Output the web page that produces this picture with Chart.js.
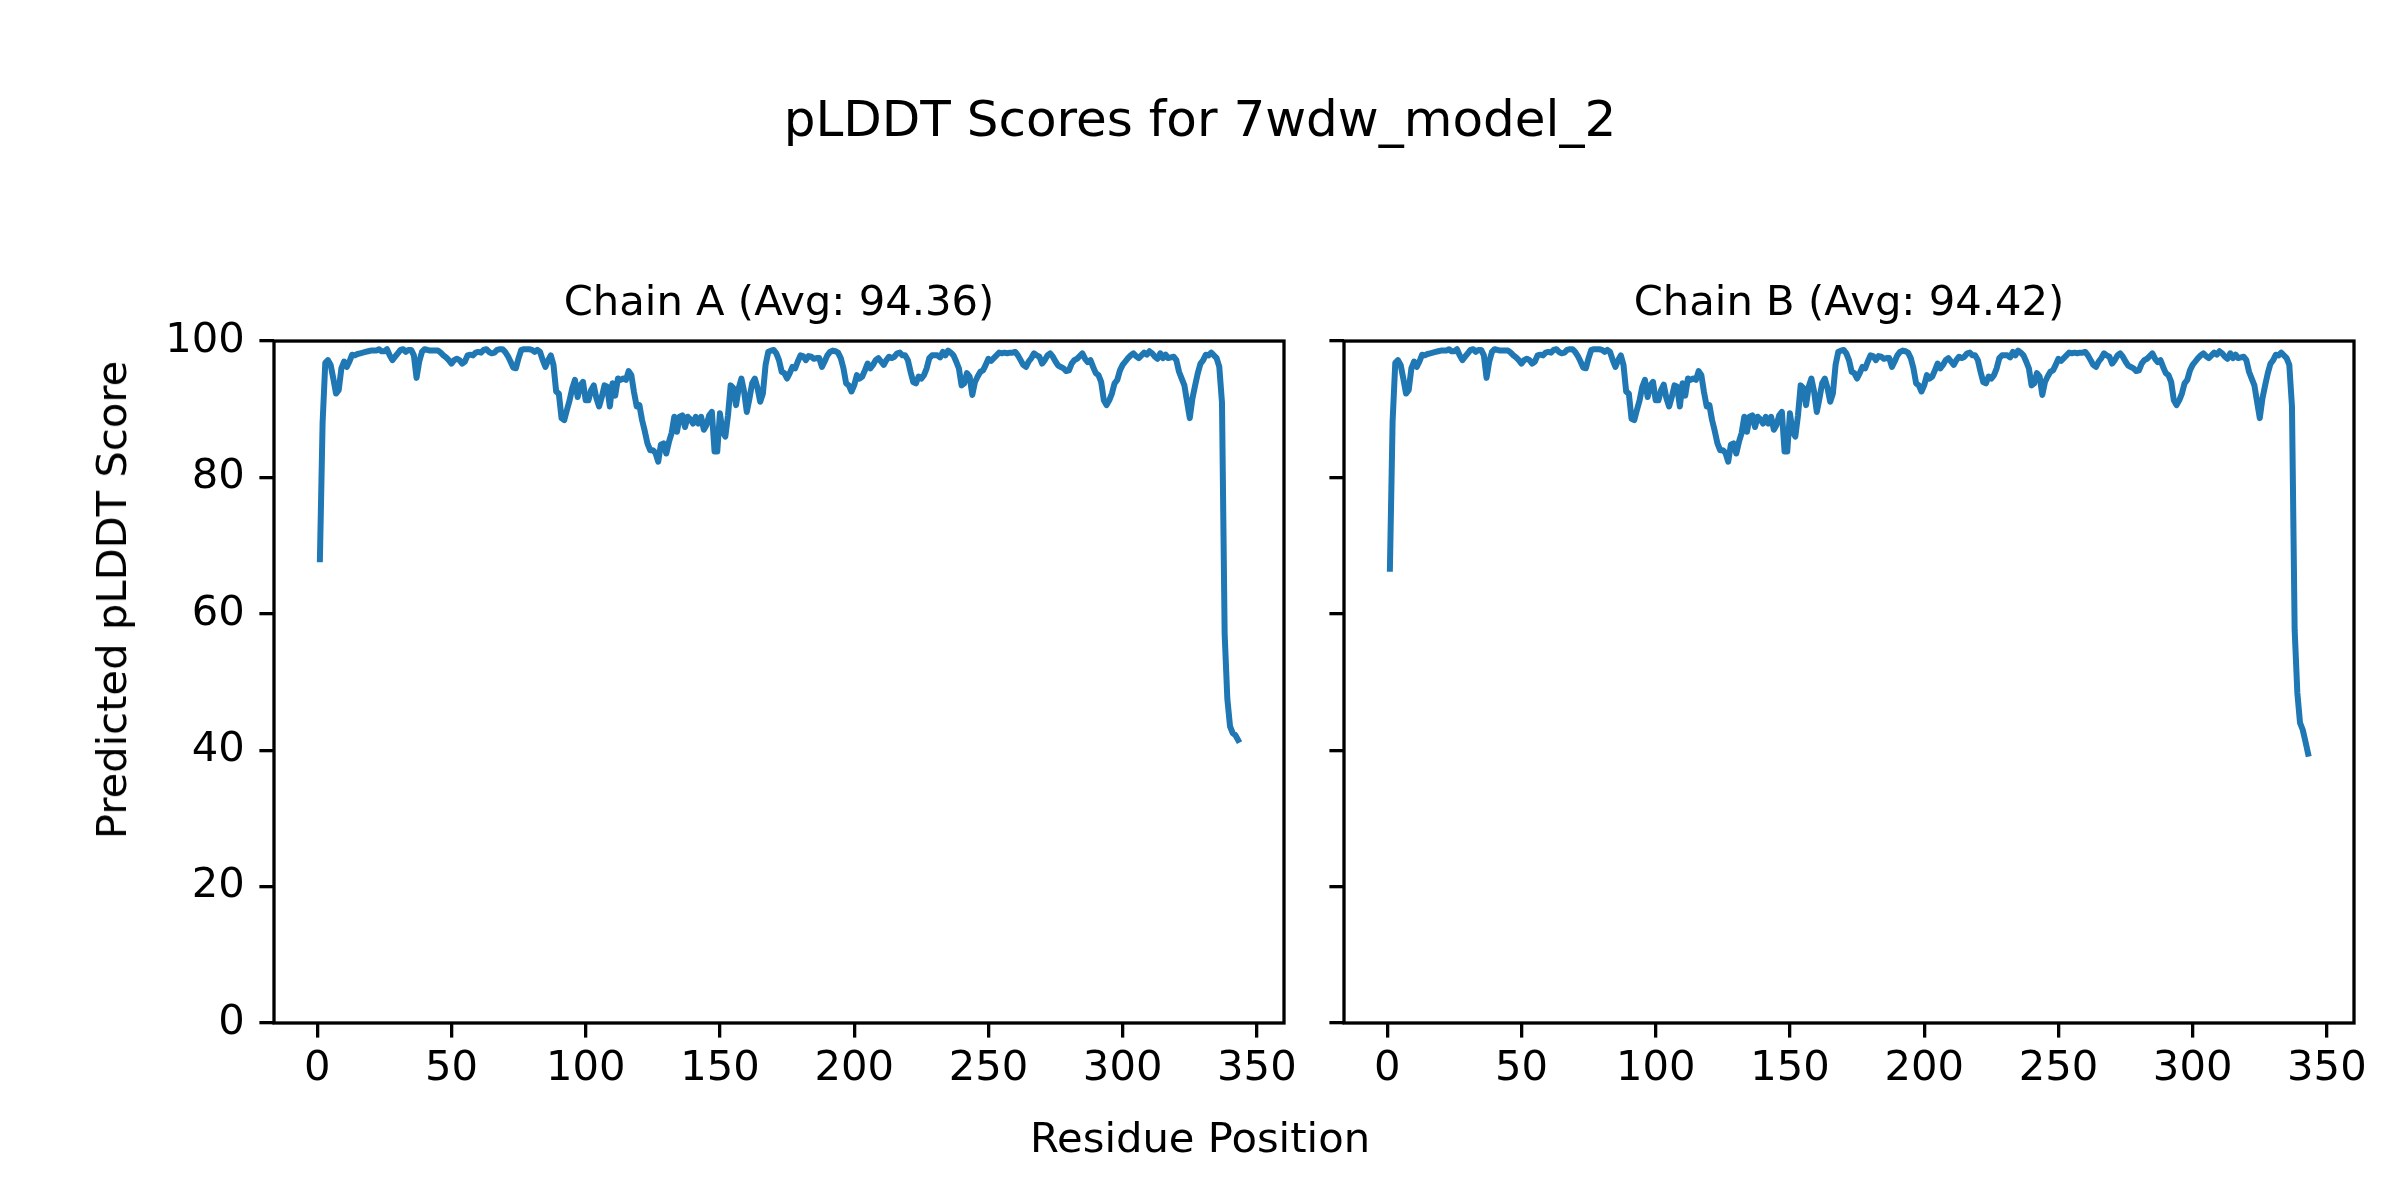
<!DOCTYPE html>
<html>
<head>
<meta charset="utf-8">
<title>pLDDT Scores for 7wdw_model_2</title>
<script src="https://cdn.jsdelivr.net/npm/chart.js@4.4.0/dist/chart.umd.min.js"></script>
<style>
  html, body { margin: 0; padding: 0; background: #fff; }
  body { width: 2400px; height: 1200px; position: relative; overflow: hidden; font-family: "DejaVu Sans", sans-serif; color: #000; }
  #suptitle { position: absolute; left: 0; top: 89px; width: 2400px; text-align: center; font-size: 50px; line-height: 60px; }
  #xlabel { position: absolute; left: 0; top: 1113px; width: 2400px; text-align: center; font-size: 41.7px; line-height: 50px; }
  #ylabel { position: absolute; left: 112px; top: 600px; font-size: 41.7px; line-height: 50px; white-space: nowrap;
            transform: translate(-50%, -50%) rotate(-90deg); }
  #chainA { position: absolute; left: 0; top: 0; }
  #chainB { position: absolute; left: 1314px; top: 0; }
</style>
</head>
<body>
<div id="suptitle">pLDDT Scores for 7wdw_model_2</div>
<canvas id="chainA" width="1314" height="1200"></canvas>
<canvas id="chainB" width="1086" height="1200"></canvas>
<div id="ylabel">Predicted pLDDT Score</div>
<div id="xlabel">Residue Position</div>

<script>
// pLDDT per residue (residues 1..343)
const chainA = [
  68.0, 88.0, 96.8, 97.2, 96.5, 94.5, 92.3, 92.8, 96.0, 97.0,
  96.2, 97.0, 98.0, 97.9, 98.1, 98.2, 98.3, 98.4, 98.5, 98.6,
  98.6, 98.6, 98.8, 98.5, 98.5, 98.8, 97.9, 97.2, 97.7, 98.2,
  98.7, 98.8, 98.4, 98.7, 98.7, 97.9, 94.6, 97.0, 98.4, 98.8,
  98.7, 98.6, 98.6, 98.6, 98.6, 98.3, 97.9, 97.6, 97.2, 96.7,
  97.2, 97.4, 97.2, 96.7, 97.0, 97.9, 98.0, 97.9, 98.3, 98.4,
  98.3, 98.7, 98.8, 98.4, 98.2, 98.3, 98.7, 98.8, 98.8, 98.4,
  97.8, 97.0, 96.1, 96.0, 97.5, 98.7, 98.8, 98.8, 98.8, 98.7,
  98.4, 98.7, 98.4, 97.2, 96.2, 97.2, 97.9, 96.5, 92.6, 92.3,
  88.7, 88.4, 89.9, 91.3, 93.1, 94.3, 91.8, 93.5, 94.0, 91.3,
  91.3, 92.8, 93.5, 91.6, 90.4, 91.8, 93.5, 93.3, 90.4, 93.8,
  92.0, 94.5, 94.3, 94.5, 94.3, 95.6, 95.0, 92.5, 90.4, 90.6,
  88.4, 86.8, 85.0, 84.0, 84.0, 83.6, 82.3, 84.8, 85.0, 83.5,
  85.2, 86.5, 88.9, 86.7, 88.9, 89.1, 87.4, 88.9, 88.5, 87.9,
  88.9, 87.9, 88.9, 87.0, 87.7, 89.1, 89.6, 83.8, 83.8, 89.4,
  86.7, 86.0, 89.1, 93.5, 93.1, 90.6, 93.1, 94.5, 92.6, 89.6,
  91.6, 93.8, 94.5, 93.1, 91.1, 92.3, 96.5, 98.4, 98.6, 98.7,
  98.2, 97.2, 95.5, 95.3, 94.5, 95.3, 96.2, 96.0, 97.0, 97.9,
  97.8, 97.2, 97.8, 97.7, 97.4, 97.5, 97.5, 96.2, 97.0, 97.9,
  98.4, 98.6, 98.5, 98.3, 97.5, 96.0, 93.8, 93.5, 92.6, 93.5,
  95.0, 94.5, 94.8, 95.7, 96.7, 96.0, 96.5, 97.2, 97.5, 97.0,
  96.5, 97.2, 97.7, 97.5, 97.7, 98.2, 98.3, 97.9, 97.9, 97.2,
  95.5, 94.0, 93.8, 94.8, 94.5, 95.0, 96.0, 97.5, 97.9, 97.9,
  97.9, 97.6, 98.4, 97.9, 98.6, 98.3, 97.9, 97.0, 96.0, 93.5,
  93.8, 95.3, 94.8, 92.1, 94.0, 94.8, 95.5, 95.7, 96.5, 97.4,
  97.1, 97.5, 97.9, 98.3, 98.2, 98.3, 98.2, 98.3, 98.3, 98.4,
  97.9, 97.2, 96.5, 96.2, 97.0, 97.5, 98.2, 97.9, 97.7, 96.7,
  97.2, 97.9, 98.2, 97.7, 97.0, 96.4, 96.2, 96.0, 95.6, 95.7,
  96.7, 97.2, 97.4, 97.8, 98.2, 97.4, 96.9, 97.2, 96.2, 95.3,
  95.0, 94.0, 91.3, 90.6, 91.3, 92.3, 93.8, 94.3, 95.7, 96.5,
  97.0, 97.5, 97.9, 98.2, 97.8, 97.5, 97.9, 98.3, 98.0, 98.5,
  98.2, 97.7, 97.4, 98.2, 97.5, 98.0, 97.5, 97.6, 97.7, 97.2,
  95.5, 94.5, 93.5, 91.1, 88.7, 91.6, 93.5, 95.3, 96.7, 97.2,
  98.0, 97.9, 98.3, 97.9, 97.5, 96.2, 91.0, 57.0, 47.5, 43.5,
  42.5, 42.2, 41.5
];

const chainB = [
  66.6, 88.2, 96.8, 97.2, 96.5, 94.5, 92.3, 92.8, 96.0, 97.0,
  96.2, 97.0, 98.0, 97.9, 98.1, 98.2, 98.3, 98.4, 98.5, 98.6,
  98.6, 98.6, 98.8, 98.5, 98.5, 98.8, 97.9, 97.2, 97.7, 98.2,
  98.7, 98.8, 98.4, 98.7, 98.7, 97.9, 94.6, 97.0, 98.4, 98.8,
  98.7, 98.6, 98.6, 98.6, 98.6, 98.3, 97.9, 97.6, 97.2, 96.7,
  97.2, 97.4, 97.2, 96.7, 97.0, 97.9, 98.0, 97.9, 98.3, 98.4,
  98.3, 98.7, 98.8, 98.4, 98.2, 98.3, 98.7, 98.8, 98.8, 98.4,
  97.8, 97.0, 96.1, 96.0, 97.5, 98.7, 98.8, 98.8, 98.8, 98.7,
  98.4, 98.7, 98.4, 97.2, 96.2, 97.2, 97.9, 96.5, 92.6, 92.3,
  88.6, 88.4, 89.9, 91.3, 93.3, 94.3, 91.8, 93.5, 94.0, 91.3,
  91.3, 92.8, 93.6, 91.6, 90.4, 91.8, 93.5, 93.3, 90.4, 93.8,
  92.0, 94.5, 94.3, 94.5, 94.3, 95.6, 95.0, 92.5, 90.4, 90.6,
  88.4, 86.8, 85.0, 84.0, 84.0, 83.6, 82.3, 84.8, 85.0, 83.5,
  85.2, 86.5, 88.9, 86.7, 88.9, 89.1, 87.4, 88.9, 88.5, 87.9,
  88.9, 87.9, 88.9, 87.0, 87.7, 89.1, 89.6, 83.8, 83.8, 89.4,
  86.7, 86.0, 89.1, 93.5, 93.1, 90.6, 93.3, 94.5, 92.6, 89.6,
  91.6, 93.8, 94.5, 93.1, 91.1, 92.3, 96.5, 98.4, 98.6, 98.7,
  98.2, 97.2, 95.5, 95.3, 94.5, 95.3, 96.2, 96.0, 97.0, 97.9,
  97.8, 97.2, 97.8, 97.7, 97.4, 97.5, 97.5, 96.2, 97.0, 97.9,
  98.4, 98.6, 98.5, 98.3, 97.5, 96.0, 93.8, 93.5, 92.6, 93.5,
  95.0, 94.5, 94.8, 95.7, 96.7, 96.0, 96.5, 97.2, 97.5, 97.0,
  96.5, 97.2, 97.7, 97.5, 97.7, 98.2, 98.3, 97.9, 97.9, 97.2,
  95.5, 94.0, 93.8, 94.8, 94.5, 95.0, 96.0, 97.5, 97.9, 97.9,
  97.9, 97.6, 98.4, 97.9, 98.6, 98.3, 97.9, 97.0, 96.0, 93.5,
  93.8, 95.3, 94.8, 92.1, 94.0, 94.8, 95.5, 95.7, 96.5, 97.4,
  97.1, 97.5, 97.9, 98.3, 98.2, 98.3, 98.2, 98.3, 98.3, 98.4,
  97.9, 97.2, 96.5, 96.2, 97.0, 97.5, 98.2, 97.9, 97.7, 96.7,
  97.2, 97.9, 98.2, 97.7, 97.0, 96.4, 96.2, 96.0, 95.6, 95.7,
  96.7, 97.2, 97.4, 97.8, 98.2, 97.4, 96.9, 97.2, 96.2, 95.3,
  95.0, 94.0, 91.3, 90.6, 91.3, 92.3, 93.8, 94.3, 95.7, 96.5,
  97.0, 97.5, 97.9, 98.2, 97.8, 97.5, 97.9, 98.3, 98.0, 98.5,
  98.2, 97.7, 97.4, 98.2, 97.5, 98.0, 97.5, 97.6, 97.7, 97.2,
  95.5, 94.5, 93.5, 91.1, 88.7, 91.6, 93.5, 95.3, 96.7, 97.2,
  98.0, 97.9, 98.3, 97.9, 97.5, 96.5, 90.4, 57.6, 48.4, 44.0,
  43.0, 41.3, 39.5
];

const xTicks = [0, 50, 100, 150, 200, 250, 300, 350];
const yTicks = [0, 20, 40, 60, 80, 100];
const titleA = 'Chain A (Avg: 94.36)';
const titleB = 'Chain B (Avg: 94.42)';

Chart.defaults.font.family = '"DejaVu Sans", sans-serif';
Chart.defaults.color = '#000';

const FS = 41.7; // 10pt at 300 dpi

// black box round the plot area, like matplotlib spines
const frame = {
  id: 'frame',
  afterDraw(chart) {
    const a = chart.chartArea;
    const ctx = chart.ctx;
    ctx.save();
    ctx.strokeStyle = '#000';
    ctx.lineWidth = 3.3;
    ctx.strokeRect(a.left, a.top, a.right - a.left, a.bottom - a.top);
    ctx.restore();
  }
};

function points(values) {
  return values.map((v, i) => ({ x: i + 1, y: v }));
}

function makeChart(id, values, title, first) {
  const ctx = document.getElementById(id).getContext('2d');
  return new Chart(ctx, {
    type: 'line',
    data: {
      datasets: [{
        data: points(values),
        borderColor: '#1f77b4',
        borderWidth: 6,
        borderJoinStyle: 'round',
        borderCapStyle: 'square',
        pointRadius: 0,
        tension: 0,
        fill: false
      }]
    },
    plugins: [frame],
    options: {
      responsive: false,
      devicePixelRatio: 1,
      animation: false,
      layout: {
        padding: { left: 0, right: first ? 30 : 46, top: 0, bottom: 97 }
      },
      plugins: {
        legend: { display: false },
        tooltip: { enabled: false },
        title: {
          display: true,
          fullSize: false, // centre over the plot area, not the canvas
          text: title,
          color: '#000',
          font: { size: FS, weight: 'normal' },
          padding: { top: 279, bottom: 12 }
        }
      },
      scales: {
        x: {
          type: 'linear',
          min: -16.1,
          max: 360.1,
          afterBuildTicks: s => { s.ticks = xTicks.map(v => ({ value: v })); },
          afterFit: s => { s.height = 80; },
          border: { display: false },
          grid: {
            drawOnChartArea: false,
            drawTicks: true,
            tickLength: 14.6,
            tickWidth: 3.3,
            tickColor: '#000',
            lineWidth: 3.3,
            color: '#000'
          },
          ticks: {
            font: { size: FS },
            padding: 7,
            maxRotation: 0,
            autoSkip: false
          }
        },
        y: {
          type: 'linear',
          min: 0,
          max: 100,
          afterBuildTicks: s => { s.ticks = yTicks.map(v => ({ value: v })); },
          afterFit: s => { s.width = first ? 274 : 30; },
          border: { display: false },
          grid: {
            drawOnChartArea: false,
            drawTicks: true,
            tickLength: 14.6,
            tickWidth: 3.3,
            tickColor: '#000',
            lineWidth: 3.3,
            color: '#000'
          },
          ticks: {
            display: first,
            font: { size: FS },
            padding: 14.6
          }
        }
      }
    }
  });
}

makeChart('chainA', chainA, titleA, true);
makeChart('chainB', chainB, titleB, false);
</script>
</body>
</html>
